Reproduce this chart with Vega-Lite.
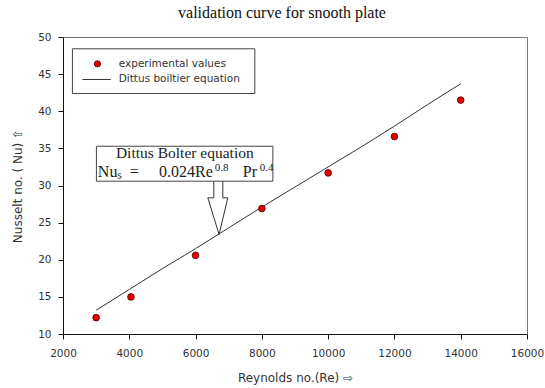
{
  "$schema": "https://vega.github.io/schema/vega-lite/v6.json",
  "width": 464,
  "height": 297,
  "autosize": "none",
  "padding": {"left": 63, "top": 37, "right": 18, "bottom": 54},
  "background": "white",
  "title": {
    "text": "validation curve for snooth plate",
    "font": "Liberation Serif",
    "fontSize": 16,
    "fontWeight": "normal",
    "color": "#111",
    "anchor": "middle",
    "dx": -13,
    "offset": 11
  },
  "config": {
    "view": {"stroke": "#777", "strokeWidth": 1},
    "axis": {
      "grid": false,
      "domainColor": "#111",
      "tickColor": "#111",
      "tickSize": 5,
      "labelFont": "DejaVu Sans",
      "labelFontSize": 10.5,
      "labelColor": "#333",
      "titleFont": "DejaVu Sans",
      "titleFontSize": 12,
      "titleFontWeight": "normal",
      "titleColor": "#333"
    }
  },
  "datasets": {
    "curve": [
      {"re": 3000, "nu": 13.2},
      {"re": 4000, "nu": 16.0},
      {"re": 5000, "nu": 18.8},
      {"re": 6000, "nu": 21.5},
      {"re": 7000, "nu": 24.3},
      {"re": 8000, "nu": 27.1},
      {"re": 9000, "nu": 29.8},
      {"re": 10000, "nu": 32.5},
      {"re": 11000, "nu": 35.2},
      {"re": 12000, "nu": 38.0},
      {"re": 13000, "nu": 40.9},
      {"re": 14000, "nu": 43.7}
    ],
    "exp": [
      {"re": 3000, "nu": 12.2},
      {"re": 4050, "nu": 15.0},
      {"re": 6000, "nu": 20.6},
      {"re": 8000, "nu": 26.9},
      {"re": 10000, "nu": 31.7},
      {"re": 12000, "nu": 36.6},
      {"re": 14000, "nu": 41.5}
    ],
    "boxes": [
      {"re": 3008, "re2": 8332, "nu": 35.29, "nu2": 30.58},
      {"re": 2284, "re2": 7788, "nu": 48.41, "nu2": 42.39}
    ],
    "arrow": [
      {"i": 1, "re": 6550, "nu": 30.58},
      {"i": 2, "re": 6550, "nu": 28.34},
      {"i": 3, "re": 6369, "nu": 28.34},
      {"i": 4, "re": 6710, "nu": 23.40},
      {"i": 5, "re": 6973, "nu": 28.34},
      {"i": 6, "re": 6822, "nu": 28.34},
      {"i": 7, "re": 6822, "nu": 30.58}
    ],
    "annHead": [
      {"re": 5675, "nu": 34.35, "label": "Dittus Bolter equation"}
    ],
    "annEq": [
      {"re": 4150, "nu": 31.8, "label": "="}
    ],
    "annLeft": [
      {"re": 3051, "nu": 31.8, "label": "Nuₛ"},
      {"re": 7426, "nu": 31.8, "label": "Pr"}
    ],
    "annRight": [
      {"re": 6520, "nu": 31.8, "label": "0.024Re"}
    ],
    "annSup": [
      {"re": 6580, "nu": 32.3, "label": "0.8"},
      {"re": 7939, "nu": 32.3, "label": "0.4"}
    ],
    "legPoint": [{"re": 3039, "nu": 46.39}],
    "legLine": [{"re": 2586, "re2": 3440, "nu": 44.28}],
    "legText": [
      {"re": 3682, "nu": 46.39, "label": "experimental values"},
      {"re": 3682, "nu": 44.28, "label": "Dittus boiltier equation"}
    ]
  },
  "encoding": {
    "x": {
      "field": "re",
      "type": "quantitative",
      "scale": {"domain": [2000, 16000], "nice": false, "zero": false},
      "axis": {
        "title": "Reynolds no.(Re) ⇨",
        "values": [2000, 4000, 6000, 8000, 10000, 12000, 14000, 16000],
        "format": "d",
        "labelPadding": 9,
        "titlePadding": 14,
        "labelFlush": false
      }
    },
    "y": {
      "field": "nu",
      "type": "quantitative",
      "scale": {"domain": [10, 50], "nice": false, "zero": false},
      "axis": {
        "title": "Nusselt no. ( Nu) ⇧",
        "values": [10, 15, 20, 25, 30, 35, 40, 45, 50],
        "labelPadding": 7,
        "titlePadding": 13
      }
    }
  },
  "layer": [
    {
      "data": {"name": "curve"},
      "mark": {"type": "line", "color": "#333", "strokeWidth": 1},
      "encoding": {}
    },
    {
      "data": {"name": "exp"},
      "mark": {"type": "point", "shape": "circle", "filled": true, "fill": "#e00000", "stroke": "#5a0000", "strokeWidth": 0.8, "size": 45, "opacity": 1},
      "encoding": {}
    },
    {
      "data": {"name": "boxes"},
      "mark": {"type": "rect", "fill": "white", "stroke": "#444", "strokeWidth": 1},
      "encoding": {
        "x2": {"field": "re2"},
        "y2": {"field": "nu2"}
      }
    },
    {
      "data": {"name": "arrow"},
      "mark": {"type": "line", "color": "#333", "strokeWidth": 1},
      "encoding": {"order": {"field": "i", "type": "quantitative"}}
    },
    {
      "data": {"name": "annHead"},
      "mark": {"type": "text", "font": "Liberation Serif", "fontSize": 15.5, "align": "center", "baseline": "middle", "color": "#222"},
      "encoding": {"text": {"field": "label"}}
    },
    {
      "data": {"name": "annEq"},
      "mark": {"type": "text", "font": "Liberation Serif", "fontSize": 16, "align": "center", "baseline": "middle", "color": "#222"},
      "encoding": {"text": {"field": "label"}}
    },
    {
      "data": {"name": "annLeft"},
      "mark": {"type": "text", "font": "Liberation Serif", "fontSize": 16, "align": "left", "baseline": "middle", "color": "#222"},
      "encoding": {"text": {"field": "label"}}
    },
    {
      "data": {"name": "annRight"},
      "mark": {"type": "text", "font": "Liberation Serif", "fontSize": 16, "align": "right", "baseline": "middle", "color": "#222"},
      "encoding": {"text": {"field": "label"}}
    },
    {
      "data": {"name": "annSup"},
      "mark": {"type": "text", "font": "Liberation Serif", "fontSize": 11, "align": "left", "baseline": "middle", "color": "#222"},
      "encoding": {"text": {"field": "label"}}
    },
    {
      "data": {"name": "legPoint"},
      "mark": {"type": "point", "shape": "circle", "filled": true, "fill": "#e00000", "stroke": "#5a0000", "strokeWidth": 0.8, "size": 40, "opacity": 1},
      "encoding": {}
    },
    {
      "data": {"name": "legLine"},
      "mark": {"type": "rule", "color": "#333", "strokeWidth": 1},
      "encoding": {"x2": {"field": "re2"}}
    },
    {
      "data": {"name": "legText"},
      "mark": {"type": "text", "font": "DejaVu Sans", "fontSize": 10.5, "align": "left", "baseline": "middle", "color": "#333"},
      "encoding": {"text": {"field": "label"}}
    }
  ]
}
